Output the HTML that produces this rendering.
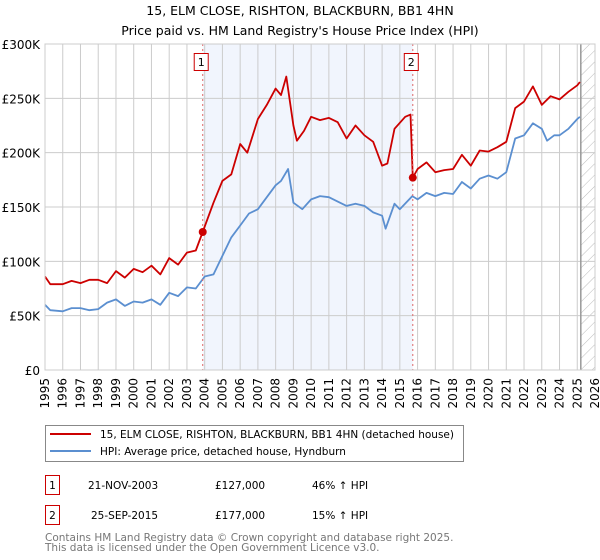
<!DOCTYPE html>
<html><head><meta charset="utf-8"><style>
body{margin:0;background:#fff;font-family:"DejaVu Sans","Liberation Sans",sans-serif;}
svg{display:block}
</style></head><body>
<svg id="chart" width="600" height="560" xmlns="http://www.w3.org/2000/svg" font-family="DejaVu Sans, Liberation Sans, sans-serif">
<defs>
<pattern id="hatch" width="8" height="8" patternUnits="userSpaceOnUse" patternTransform="rotate(45)">
<line x1="0" y1="0" x2="0" y2="8" stroke="#bbb" stroke-width="1"/>
</pattern>
</defs>
<text x="300" y="15" text-anchor="middle" font-size="12.5" fill="#000">15, ELM CLOSE, RISHTON, BLACKBURN, BB1 4HN</text>
<text x="300" y="35" text-anchor="middle" font-size="12.5" fill="#000">Price paid vs. HM Land Registry's House Price Index (HPI)</text>
<g id="plot"></g>
<g>
<rect x="45.5" y="425.5" width="418" height="36" fill="#fff" stroke="#888" stroke-width="1"/>
<line x1="50" y1="434" x2="91" y2="434" stroke="#cc0000" stroke-width="2"/>
<text x="100" y="438" font-size="10.5">15, ELM CLOSE, RISHTON, BLACKBURN, BB1 4HN (detached house)</text>
<line x1="50" y1="451" x2="91" y2="451" stroke="#5b8fd0" stroke-width="2"/>
<text x="100" y="455" font-size="10.5">HPI: Average price, detached house, Hyndburn</text>
</g>
<g font-size="10.5">
<rect x="45.5" y="475.5" width="14" height="19" fill="#fff" stroke="#cc0000"/>
<text x="52.5" y="489" text-anchor="middle">1</text>
<text x="88" y="489">21-NOV-2003</text>
<text x="215" y="489">£127,000</text>
<text x="312" y="489">46% ↑ HPI</text>
<rect x="45.5" y="505.5" width="14" height="19" fill="#fff" stroke="#cc0000"/>
<text x="52.5" y="519" text-anchor="middle">2</text>
<text x="91" y="519">25-SEP-2015</text>
<text x="215" y="519">£177,000</text>
<text x="312" y="519">15% ↑ HPI</text>
</g>
<text x="45" y="541" font-size="10.5" fill="#777">Contains HM Land Registry data © Crown copyright and database right 2025.</text>
<text x="45" y="551" font-size="10.5" fill="#777">This data is licensed under the Open Government Licence v3.0.</text>
</svg>
<script>
const years=[1995,1996,1997,1998,1999,2000,2001,2002,2003,2004,2005,2006,2007,2008,2009,2010,2011,2012,2013,2014,2015,2016,2017,2018,2019,2020,2021,2022,2023,2024,2025,2026];
const yTicks=[0,50,100,150,200,250,300];
const yTickLabels=["£0","£50K","£100K","£150K","£200K","£250K","£300K"];
const hpiT=[1995,1995.3,1996,1996.5,1997,1997.5,1998,1998.5,1999,1999.5,2000,2000.5,2001,2001.5,2002,2002.5,2003,2003.5,2004,2004.5,2005,2005.5,2006,2006.5,2007,2007.5,2008,2008.3,2008.7,2009,2009.5,2010,2010.5,2011,2011.5,2012,2012.5,2013,2013.5,2014,2014.2,2014.7,2015,2015.7,2016,2016.5,2017,2017.5,2018,2018.5,2019,2019.5,2020,2020.5,2021,2021.5,2022,2022.5,2023,2023.3,2023.7,2024,2024.5,2025,2025.15];
const hpiV=[60,55,54,57,57,55,56,62,65,59,63,62,65,60,71,68,76,75,86,88,105,122,133,144,148,159,170,174,185,154,148,157,160,159,155,151,153,151,145,142,130,153,148,160,157,163,160,163,162,173,167,176,179,176,182,213,216,227,222,211,216,216,222,231,233];
const priceT=[1995,1995.3,1996,1996.5,1997,1997.5,1998,1998.5,1999,1999.5,2000,2000.5,2001,2001.5,2002,2002.5,2003,2003.5,2003.89,2004.5,2005,2005.5,2006,2006.4,2007,2007.5,2008,2008.3,2008.6,2009,2009.2,2009.6,2010,2010.5,2011,2011.5,2012,2012.5,2013,2013.5,2014,2014.3,2014.7,2015.3,2015.6,2015.73,2016,2016.5,2017,2017.5,2018,2018.5,2019,2019.5,2020,2020.5,2021,2021.5,2022,2022.5,2023,2023.5,2024,2024.5,2025,2025.15];
const priceV=[86,79,79,82,80,83,83,80,91,85,93,90,96,88,103,97,108,110,127,154,174,180,208,200,231,244,259,253,270,225,211,220,233,230,232,228,213,225,216,210,188,190,222,233,235,177,185,191,182,184,185,198,188,202,201,205,210,241,247,261,244,252,249,256,262,265];
const sales=[{t:2003.89,v:127,n:"1"},{t:2015.73,v:177,n:"2"}];
const svgNS="http://www.w3.org/2000/svg";
const L=45,R=595,T=44,B=370,x0=1995,x1=2026,ymax=300;
const xs=t=>L+(t-x0)/(x1-x0)*(R-L);
const ys=v=>B-v/ymax*(B-T);
const plot=document.getElementById('plot');
function mk(tag,attrs,parent){const e=document.createElementNS(svgNS,tag);for(const k in attrs)e.setAttribute(k,attrs[k]);(parent||plot).appendChild(e);return e;}
let shade=mk('rect',{x:xs(sales[0].t),y:T,width:xs(sales[1].t)-xs(sales[0].t),height:B-T,fill:'#eef2fc',opacity:0.8});


let hat=mk('rect',{x:xs(2025.2),y:T,width:R-xs(2025.2),height:B-T,fill:'url(#hatch)'});


years.forEach(y=>{
 let g=mk('line',{x1:xs(y),x2:xs(y),y1:T,y2:B,stroke:'#ccc','stroke-width':1});
 
 
 let t=mk('text',{x:0,y:0,'font-size':12,'text-anchor':'end',transform:`translate(${xs(y)+4},${B+8}) rotate(-90)`});
 t.textContent=y;
 
 
});
yTicks.forEach((v,i)=>{
 let g=mk('line',{x1:L,x2:R,y1:ys(v),y2:ys(v),stroke:'#ccc','stroke-width':1});
 
 
 let t=mk('text',{x:L-5,y:ys(v)+5,'font-size':12,'text-anchor':'end'});
 t.textContent=yTickLabels[i];
 
 
});
let fl=mk('line',{x1:xs(2025.2),x2:xs(2025.2),y1:T,y2:B,stroke:'#999','stroke-width':1.5});


function path(ts,vs,col,name){
 let d=ts.map((t,i)=>(i?'L':'M')+xs(t).toFixed(1)+','+ys(vs[i]).toFixed(1)).join('');
 let p=mk('path',{d:d,fill:'none',stroke:col,'stroke-width':1.8,'stroke-linejoin':'round'});
 
 
}
path(hpiT,hpiV,'#5b8fd0','hpi-line');
path(priceT,priceV,'#cc0000','price-line');
sales.forEach(s=>{
 let v=mk('line',{x1:xs(s.t),x2:xs(s.t),y1:T,y2:B,stroke:'#e06666','stroke-width':1,'stroke-dasharray':'2,3'});
 
 
 let c=mk('circle',{cx:xs(s.t),cy:ys(s.v),r:4,fill:'#cc0000'});
 
 
 let b=mk('rect',{x:xs(s.t)-8.5,y:53.5,width:14,height:17,fill:'#fff',stroke:'#cc0000'});
 
 
 let t=mk('text',{x:xs(s.t)-1.5,y:66,'font-size':11,'text-anchor':'middle'});
 t.textContent=s.n;
 
 
});
let fr=mk('rect',{x:L,y:T,width:R-L,height:B-T,fill:'none',stroke:'#ccc'});


</script>
</body></html>
